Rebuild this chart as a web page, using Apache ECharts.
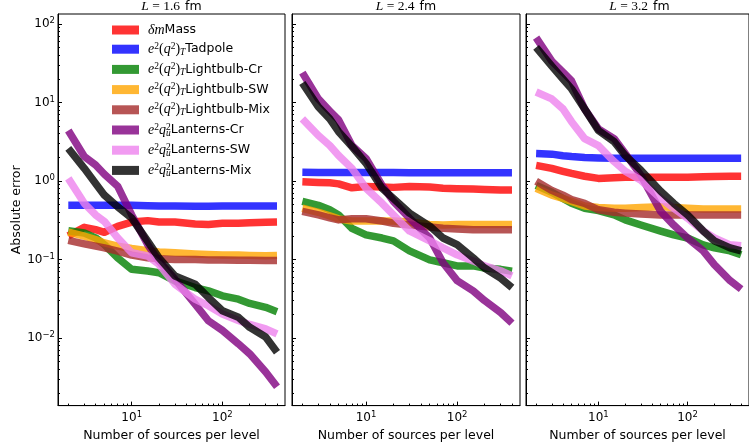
<!DOCTYPE html>
<html><head><meta charset="utf-8">
<script src="https://cdn.jsdelivr.net/npm/echarts@6/dist/echarts.min.js"></script>
<style>html,body{margin:0;padding:0;background:#fff}#c{width:749px;height:447px}</style>
</head><body><div id="c"></div>
<script>
// ---------- data ----------
const sources = [2,3,4,5,7,10,15,20,30,50,70,100,150,200,300,400];
const panelTitles = ['1.6','2.4','3.2'];
const seriesNames = ['dmMass','e2q2T-Tadpole','e2q2T-Lightbulb-Cr','e2q2T-Lightbulb-SW','e2q2T-Lightbulb-Mix','e2qu2-Lanterns-Cr','e2qu2-Lanterns-SW','e2qu2-Lanterns-Mix'];
const xMajorTicks = [10,100];
const yMajorTicks = [0.01,0.1,1,10,100];

// L = 1.6 fm
const p1Mass     = [0.20,0.257,0.24,0.222,0.265,0.30,0.313,0.30,0.30,0.284,0.28,0.29,0.29,0.295,0.298,0.30];
const p1Tadpole  = [0.49,0.49,0.49,0.49,0.49,0.49,0.485,0.48,0.48,0.478,0.478,0.48,0.48,0.48,0.48,0.48];
const p1LbCr     = [0.233,0.218,0.189,0.155,0.105,0.075,0.0714,0.068,0.0534,0.044,0.040,0.0345,0.0313,0.0276,0.0246,0.0217];
const p1LbSW     = [0.224,0.198,0.18,0.163,0.148,0.138,0.130,0.125,0.122,0.118,0.116,0.114,0.114,0.113,0.112,0.113];
const p1LbMix    = [0.175,0.158,0.148,0.141,0.128,0.114,0.105,0.102,0.100,0.100,0.099,0.099,0.098,0.098,0.097,0.097];
const p1LanCr    = [4.4,2.05,1.6,1.22,0.86,0.37,0.155,0.095,0.056,0.027,0.0166,0.0125,0.00845,0.0063,0.0037,0.0024];
const p1LanSW    = [1.08,0.52,0.37,0.306,0.189,0.122,0.111,0.087,0.0485,0.0313,0.0258,0.0202,0.0167,0.0149,0.0131,0.0113];
const p1LanMix   = [2.6,1.45,0.93,0.66,0.47,0.337,0.171,0.105,0.0618,0.0485,0.0329,0.0223,0.0184,0.0137,0.0103,0.0066];
// L = 2.4 fm
const p2Mass     = [0.98,0.96,0.95,0.92,0.82,0.85,0.84,0.83,0.85,0.84,0.81,0.80,0.79,0.78,0.77,0.77];
const p2Tadpole  = [1.29,1.28,1.28,1.28,1.28,1.28,1.28,1.28,1.27,1.27,1.27,1.27,1.27,1.27,1.27,1.27];
const p2LbCr     = [0.55,0.49,0.43,0.37,0.25,0.206,0.188,0.173,0.129,0.099,0.091,0.083,0.083,0.078,0.075,0.071];
const p2LbSW     = [0.45,0.40,0.36,0.33,0.31,0.31,0.31,0.31,0.30,0.28,0.275,0.28,0.28,0.28,0.28,0.28];
const p2LbMix    = [0.41,0.37,0.34,0.32,0.33,0.33,0.31,0.29,0.275,0.26,0.25,0.245,0.24,0.24,0.24,0.24];
const p2LanCr    = [24,11.1,7.8,6.0,2.83,1.94,0.88,0.55,0.337,0.188,0.091,0.054,0.040,0.030,0.0212,0.0155];
const p2LanSW    = [6.2,3.8,2.83,2.11,1.45,0.81,0.52,0.37,0.231,0.173,0.141,0.115,0.096,0.083,0.072,0.062];
const p2LanMix   = [17.7,8.8,6.2,4.25,2.75,1.68,0.81,0.60,0.39,0.267,0.188,0.155,0.105,0.078,0.058,0.044];
// L = 3.2 fm
const p3Mass     = [1.58,1.45,1.33,1.25,1.15,1.08,1.10,1.12,1.12,1.12,1.12,1.12,1.13,1.14,1.15,1.15];
const p3Tadpole  = [2.24,2.2,2.1,2.05,2.0,1.97,1.95,1.95,1.95,1.95,1.95,1.95,1.95,1.95,1.95,1.95];
const p3LbCr     = [0.88,0.72,0.60,0.52,0.45,0.42,0.37,0.32,0.275,0.23,0.206,0.188,0.154,0.141,0.129,0.115];
const p3LbSW     = [0.81,0.66,0.60,0.55,0.48,0.46,0.45,0.45,0.46,0.47,0.46,0.45,0.44,0.44,0.44,0.44];
const p3LbMix    = [0.99,0.76,0.66,0.58,0.52,0.43,0.40,0.39,0.38,0.37,0.37,0.37,0.37,0.37,0.37,0.37];
const p3LanCr    = [67,33.6,24.4,18.8,8.3,4.6,3.47,2.24,1.18,0.41,0.275,0.188,0.129,0.086,0.054,0.042];
const p3LanSW    = [13.6,11.1,8.3,5.7,3.47,2.83,1.77,1.33,1.02,0.60,0.45,0.337,0.231,0.188,0.154,0.15];
const p3LanMix   = [50.4,29,19.9,14.9,8.3,4.4,3.18,2.11,1.37,0.74,0.52,0.37,0.231,0.173,0.141,0.129];

const panels = [
  [p1Mass,p1Tadpole,p1LbCr,p1LbSW,p1LbMix,p1LanCr,p1LanSW,p1LanMix],
  [p2Mass,p2Tadpole,p2LbCr,p2LbSW,p2LbMix,p2LanCr,p2LanSW,p2LanMix],
  [p3Mass,p3Tadpole,p3LbCr,p3LbSW,p3LbMix,p3LanCr,p3LanSW,p3LanMix]
];

// ---------- style ----------
const colors  = ['#ff0000','#0000ff','#008000','#ffa500','#a52a2a','#800080','#ee82ee','#000000'];
const blended = ['#ff3333','#3333ff','#339933','#ffb733','#b75555','#993399','#f19bf1','#333333'];
const xMin = 1.54, xMax = 490, yMin = 0.00138, yMax = 134;
const grids = [
  {left:58, top:14, width:227, height:395},
  {left:292, top:14, width:228, height:395},
  {left:526, top:14, width:227, height:395}
];
const xMinorTicks = [], yMinorTicks = [];
for (let e = 0; e <= 2; e++) for (let m = 2; m <= 9; m++) xMinorTicks.push(m * Math.pow(10, e));
for (let e = -3; e <= 2; e++) for (let m = 2; m <= 9; m++) yMinorTicks.push(+(m * Math.pow(10, e)).toPrecision(3));

const SANS = 'DejaVu Sans';
const SERIF = 'Liberation Serif';
const tickRich = {
  b: {fontSize: 12, fontFamily: SANS, color: '#000', lineHeight: 15},
  s: {fontSize: 8.5, fontFamily: SANS, color: '#000', lineHeight: 9, verticalAlign: 'top'}
};
const powLabel = v => {
  const e = Math.round(Math.log10(v));
  return '{b|10}{s|' + (e < 0 ? '\u2212' + (-e) : e) + '}';
};

const legendRich = {
  m: {fontFamily: SERIF, fontStyle: 'italic', fontSize: 14, lineHeight: 16, color: '#000'},
  r: {fontFamily: SERIF, fontSize: 14, lineHeight: 16, color: '#000'},
  p: {fontFamily: SERIF, fontSize: 9.5, lineHeight: 10, verticalAlign: 'top', color: '#000'},
  pz: {fontFamily: SERIF, fontSize: 9.5, lineHeight: 10, verticalAlign: 'top', color: '#000', width: 0.01, align: 'left'},
  d: {fontFamily: SERIF, fontStyle: 'italic', fontSize: 9.5, lineHeight: 10, verticalAlign: 'bottom', color: '#000'},
  t: {fontFamily: SANS, fontSize: 12.5, lineHeight: 16, color: '#000'}
};
const legendText = {
  'dmMass': '{m|δm}{t|Mass}',
  'e2q2T-Tadpole': '{m|e}{p|2}{r|(}{m|q}{p|2}{r|)}{d|T}{t|Tadpole}',
  'e2q2T-Lightbulb-Cr': '{m|e}{p|2}{r|(}{m|q}{p|2}{r|)}{d|T}{t|Lightbulb-Cr}',
  'e2q2T-Lightbulb-SW': '{m|e}{p|2}{r|(}{m|q}{p|2}{r|)}{d|T}{t|Lightbulb-SW}',
  'e2q2T-Lightbulb-Mix': '{m|e}{p|2}{r|(}{m|q}{p|2}{r|)}{d|T}{t|Lightbulb-Mix}',
  'e2qu2-Lanterns-Cr': '{m|e}{p|2}{m|q}{pz|2}{d|u}{t|Lanterns-Cr}',
  'e2qu2-Lanterns-SW': '{m|e}{p|2}{m|q}{pz|2}{d|u}{t|Lanterns-SW}',
  'e2qu2-Lanterns-Mix': '{m|e}{p|2}{m|q}{pz|2}{d|u}{t|Lanterns-Mix}'
};

const xAxes = [], yAxes = [], series = [];
grids.forEach((g, i) => {
  xAxes.push({
    type: 'log', logBase: 10, gridIndex: i, position: 'bottom', min: xMin, max: xMax,
    axisLine: {show: true, onZero: false, lineStyle: {color: '#000', width: 1}},
    axisTick: {show: true, inside: true, length: 4, customValues: xMajorTicks, lineStyle: {color: '#000'}},
    axisLabel: {show: true, customValues: xMajorTicks, formatter: powLabel, rich: tickRich, margin: 5},
    splitLine: {show: false}, minorTick: {show: false},
    name: 'Number of sources per level', nameLocation: 'middle', nameGap: 13,
    nameTextStyle: {fontFamily: SANS, fontSize: 12.5, color: '#000'}
  });
  xAxes.push({
    type: 'log', logBase: 10, gridIndex: i, position: 'bottom', min: xMin, max: xMax,
    axisLine: {show: false},
    axisTick: {show: true, inside: true, length: 2, customValues: xMinorTicks, lineStyle: {color: '#000'}},
    axisLabel: {show: false}, splitLine: {show: false}
  });
  yAxes.push(Object.assign({
    type: 'log', logBase: 10, gridIndex: i, position: 'left', min: yMin, max: yMax,
    axisLine: {show: true, onZero: false, lineStyle: {color: '#000', width: 1}},
    axisTick: {show: true, inside: true, length: 4, customValues: yMajorTicks, lineStyle: {color: '#000'}},
    axisLabel: {show: i === 0, customValues: yMajorTicks, formatter: powLabel, rich: tickRich, margin: 3},
    splitLine: {show: false}
  }, i === 0 ? {
    name: 'Absolute error', nameLocation: 'middle', nameGap: 34, nameRotate: 90,
    nameTextStyle: {fontFamily: SANS, fontSize: 12.5, color: '#000'}
  } : {}));
  yAxes.push({
    type: 'log', logBase: 10, gridIndex: i, position: 'left', min: yMin, max: yMax,
    axisLine: {show: false},
    axisTick: {show: true, inside: true, length: 2, customValues: yMinorTicks, lineStyle: {color: '#000'}},
    axisLabel: {show: false}, splitLine: {show: false}
  });
  panels[i].forEach((vals, k) => {
    series.push({
      type: 'line', name: seriesNames[k], xAxisIndex: 2 * i, yAxisIndex: 2 * i,
      data: sources.map((x, j) => [x, vals[j]]),
      symbol: 'none', showSymbol: false, silent: true,
      lineStyle: {color: colors[k], width: 7.5, opacity: 0.8, cap: 'butt', join: 'round'},
      itemStyle: {color: blended[k]},
      emphasis: {disabled: true}
    });
  });
});

const option = {
  animation: false,
  backgroundColor: '#fff',
  grid: grids.map(g => Object.assign({show: true, borderColor: '#000', borderWidth: 1, backgroundColor: 'transparent'}, g)),
  title: panelTitles.map((t, i) => ({
    text: '{i|L}{m| = ' + t + '} {s|fm}',
    left: grids[i].left + grids[i].width / 2, top: 0, textAlign: 'center', padding: 0,
    textStyle: {fontWeight: 'normal', lineHeight: 13, rich: {
      i: {fontFamily: SERIF, fontStyle: 'italic', fontWeight: 'normal', fontSize: 13.5, lineHeight: 13, color: '#000'},
      m: {fontFamily: SERIF, fontWeight: 'normal', fontSize: 13.5, lineHeight: 13, color: '#000'},
      s: {fontFamily: SANS, fontWeight: 'normal', fontSize: 12.5, lineHeight: 13, color: '#000'}
    }}
  })),
  legend: {
    data: seriesNames.map((n, k) => ({name: n, itemStyle: {color: blended[k], opacity: 1}})),
    orient: 'vertical', left: 112, top: 23, padding: 0, icon: 'rect', itemWidth: 27, itemHeight: 9, itemGap: 4.2,
    selectedMode: false,
    formatter: n => legendText[n],
    textStyle: {rich: legendRich, padding: [0, 0, 0, 4]}
  },
  xAxis: xAxes,
  yAxis: yAxes,
  series: series
};
const chart = echarts.init(document.getElementById('c'), null, {renderer: 'canvas'});
chart.setOption(option);
</script></body></html>
